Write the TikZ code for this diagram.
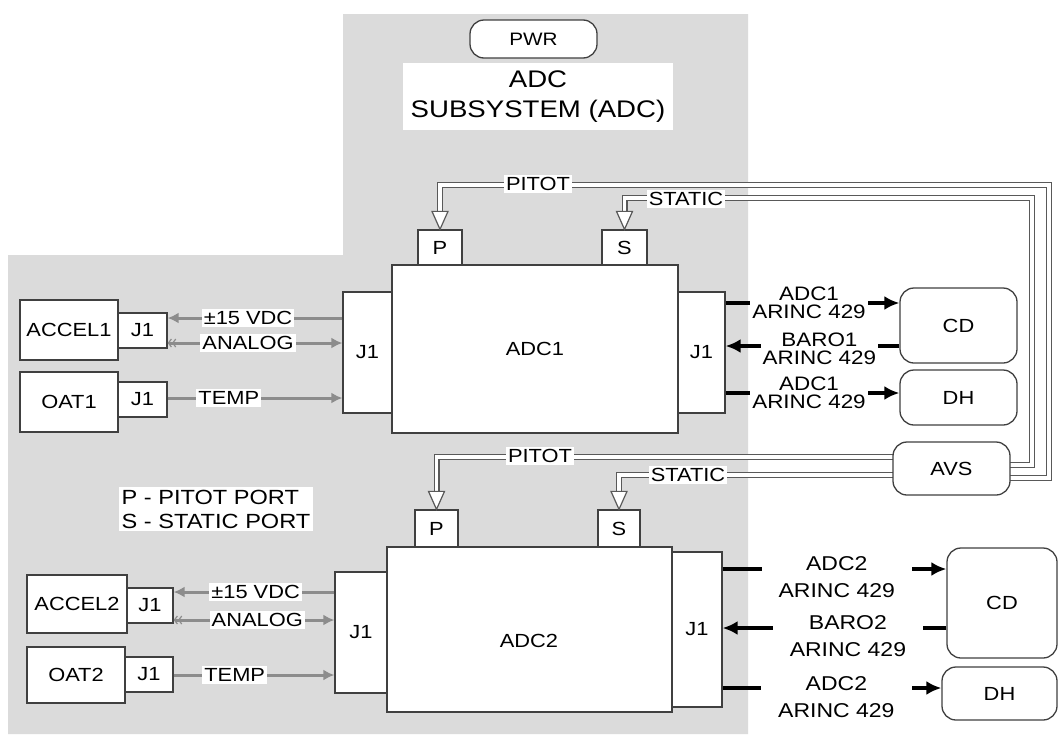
\documentclass[tikz,border=0pt]{standalone}
\usepackage{fontspec}
\setmainfont{Liberation Sans}[FakeStretch=1.15]
\usetikzlibrary{arrows.meta}
\newcommand\fsz[2]{\fontsize{#1}{#2}\selectfont}
\definecolor{boxc}{gray}{0.25}
\definecolor{wirec}{gray}{0.55}
\definecolor{tubec}{gray}{0.35}
\definecolor{bgc}{gray}{0.86}
\begin{document}
\begin{tikzpicture}[x=1pt,y=-1pt,
  box/.style={draw=boxc, fill=white, line width=1.3pt, inner sep=0pt, font=\fsz{19}{21}},
  rbox/.style={box, rounded corners=14pt},
  lbl/.style={fill=white, inner sep=2pt, font=\fsz{19}{21}},
  sigl/.style={fill=white, inner xsep=2pt, inner ysep=1pt, align=center, font=\fsz{19.5}{17.5}},
  sigm/.style={fill=white, inner xsep=17pt, inner ysep=1pt, align=center, font=\fsz{20}{27}},
  tube/.style={draw=tubec, line width=1.2pt, double=white, double distance=3.6pt},
  tri/.style={draw=tubec, fill=white, line width=1.2pt, line join=miter},
  wire/.style={draw=wirec, line width=3pt, -{Latex[length=11pt,width=11pt]}},
  sig/.style={draw=black, line width=3.5pt, -{Latex[length=15pt,width=14pt]}},
]
\useasboundingbox (0,0) rectangle (1060,734);
\fill[white] (0,0) rectangle (1060,734);
\fill[bgc] (343,14) -- (748,14) -- (748,734) -- (8,734) -- (8,255) -- (343,255) -- cycle;

% ---------- boxes ----------
\node[rbox, minimum width=127pt, minimum height=38pt, font=\fsz{18}{20}] (pwr) at (533.5,39) {PWR};
\node[fill=white, minimum width=270pt, minimum height=67pt, align=center, font=\fsz{24}{30}] (title) at (538,96.5) {ADC\\SUBSYSTEM (ADC)};

\node[box, minimum width=44pt, minimum height=35pt] (p1) at (440,247.5) {P};
\node[box, minimum width=45pt, minimum height=35pt] (s1) at (624.5,247.5) {S};
\node[box, minimum width=286pt, minimum height=168pt] (adc1) at (535,349) {ADC1};
\node[box, minimum width=49pt, minimum height=121pt] (j1l1) at (367.5,352.5) {J1};
\node[box, minimum width=47pt, minimum height=121pt] (j1r1) at (701.5,352.5) {J1};

\node[box, minimum width=43pt, minimum height=37pt] (p2) at (436.5,528.5) {P};
\node[box, minimum width=42pt, minimum height=37pt] (s2) at (619,528.5) {S};
\node[box, minimum width=285pt, minimum height=165pt] (adc2) at (529.5,629.5) {};
\node[font=\fsz{19}{21}] (adc2t) at (529,641) {ADC2};
\node[box, minimum width=52pt, minimum height=121pt] (j1l2) at (361,632.5) {J1};
\node[box, minimum width=50pt, minimum height=155pt] (j1r2) at (697,629.5) {J1};

\node[box, minimum width=98pt, minimum height=60pt] (accel1) at (69,330) {ACCEL1};
\node[box, minimum width=49pt, minimum height=35pt] (aj1) at (142.5,330.5) {J1};
\node[box, minimum width=98pt, minimum height=60pt] (oat1) at (69,402) {OAT1};
\node[box, minimum width=49pt, minimum height=35pt] (oj1) at (142.5,399.5) {J1};

\node[box, minimum width=100pt, minimum height=58pt] (accel2) at (77,604) {ACCEL2};
\node[box, minimum width=46pt, minimum height=35pt] (aj2) at (150,605.5) {J1};
\node[box, minimum width=98pt, minimum height=56pt] (oat2) at (76,675) {OAT2};
\node[box, minimum width=48pt, minimum height=35pt] (oj2) at (149,674.5) {J1};

\node[fill=white, inner sep=3pt, align=left, font=\fsz{20.5}{24}] (legend) at (216,509) {P - PITOT PORT\\S - STATIC PORT};

% ---------- pneumatic tubes ----------
\draw[tube] (950,478) -| (1049,185) -| ([yshift=18pt]p1.north);
\draw[tube] (950,465) -| (1032,198) -| ([yshift=18pt]s1.north);
\draw[tube] (950,457) -| ([yshift=18pt]p2.north);
\draw[tube] (950,475) -| ([yshift=18pt]s2.north);
\node[rbox, minimum width=117pt, minimum height=53pt] (avs) at (951.5,468.5) {AVS};

\draw[tri] ([xshift=-8pt,yshift=18pt]p1.north) -- ([xshift=8pt,yshift=18pt]p1.north) -- (p1.north) -- cycle;
\draw[tri] ([xshift=-8pt,yshift=18pt]s1.north) -- ([xshift=8pt,yshift=18pt]s1.north) -- (s1.north) -- cycle;
\draw[tri] ([xshift=-8pt,yshift=18pt]p2.north) -- ([xshift=8pt,yshift=18pt]p2.north) -- (p2.north) -- cycle;
\draw[tri] ([xshift=-8pt,yshift=18pt]s2.north) -- ([xshift=8pt,yshift=18pt]s2.north) -- (s2.north) -- cycle;

\node[lbl] (pitot1) at (538,184) {PITOT};
\node[lbl] (static1) at (686,199) {STATIC};
\node[lbl] (pitot2) at (540,456) {PITOT};
\node[lbl] (static2) at (688,475) {STATIC};

% ---------- left wires ----------
\draw[wire] (j1l1.west |- 0,318) -- node[lbl, pos=0.54] {±15 VDC} (aj1.east |- 0,318);
\draw[wire, {Straight Barb[length=3pt,width=8pt,line width=1.2pt]Straight Barb[length=3pt,width=8pt,line width=1.2pt]}-{Latex[length=11pt,width=11pt]}] (aj1.east |- 0,343) -- node[lbl, pos=0.46] {ANALOG} (j1l1.west |- 0,343);
\draw[wire] (oj1.east |- 0,398) -- node[lbl, pos=0.35] {TEMP} (j1l1.west |- 0,398);

\draw[wire] (j1l2.west |- 0,592) -- node[lbl, pos=0.49] {±15 VDC} (aj2.east |- 0,592);
\draw[wire, {Straight Barb[length=3pt,width=8pt,line width=1.2pt]Straight Barb[length=3pt,width=8pt,line width=1.2pt]}-{Latex[length=11pt,width=11pt]}] (aj2.east |- 0,620) -- node[lbl, pos=0.52] {ANALOG} (j1l2.west |- 0,620);
\draw[wire] (oj2.east |- 0,675) -- node[lbl, pos=0.38] {TEMP} (j1l2.west |- 0,675);

% ---------- right side ----------
\node[rbox, minimum width=117pt, minimum height=75pt] (cd1) at (958.5,325.5) {CD};
\node[rbox, minimum width=117pt, minimum height=55pt] (dh1) at (958.5,397.5) {DH};
\node[rbox, minimum width=110pt, minimum height=110pt] (cd2) at (1002,603) {CD};
\node[rbox, minimum width=115pt, minimum height=53pt] (dh2) at (999.5,693.5) {DH};

\draw[sig] (j1r1.east |- 0,303) -- node[sigl, pos=0.48] {ADC1\\ARINC 429} (cd1.west |- 0,303);
\draw[sig] (cd1.west |- 0,346) -- node[sigl, pos=0.46, yshift=-3pt] {BARO1\\ARINC 429} (j1r1.east |- 0,346);
\draw[sig] (j1r1.east |- 0,393) -- node[sigl, pos=0.48] {ADC1\\ARINC 429} (dh1.west |- 0,393);

\draw[sig] (j1r2.east |- 0,569) -- node[sigm, pos=0.51, yshift=-8pt] {ADC2\\ARINC 429} (cd2.west |- 0,569);
\draw[sig] (cd2.west |- 0,628) -- node[sigm, pos=0.44, yshift=-8pt] {BARO2\\ARINC 429} (j1r2.east |- 0,628);
\draw[sig] (j1r2.east |- 0,688) -- node[sigm, pos=0.52, yshift=-9pt] {ADC2\\ARINC 429} (dh2.west |- 0,688);
\end{tikzpicture}
\end{document}
